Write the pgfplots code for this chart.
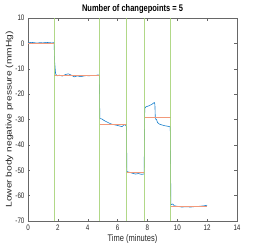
\documentclass[border=0pt]{standalone}
\usepackage{pgfplots}
\pgfplotsset{compat=1.18}
\usepackage{fontspec}
\setmainfont{Liberation Sans}[FakeStretch=0.78]
\newfontfamily\ylabfont{Liberation Sans}
\definecolor{mblue}{rgb}{0.1,0.5,0.8}
\definecolor{morange}{rgb}{0.95,0.6,0.48}
\definecolor{mgreen}{rgb}{0.64,0.82,0.45}
\definecolor{axgray}{rgb}{0.15,0.15,0.15}
\begin{document}
\begin{tikzpicture}
\begin{axis}[
  at={(0pt,0pt)}, anchor=south west,
  scale only axis, width=209pt, height=203pt,
  xmin=0, xmax=14, ymin=-70, ymax=10,
  xtick={0,2,...,14}, ytick={-70,-60,...,10},
  tick align=inside, tick pos=both,
  major tick length=2.5pt,
  axis line style={axgray!70, line width=0.4pt},
  tick style={axgray!70, line width=0.4pt},
  ticklabel style={font=\fontsize{8}{9}\selectfont, text=axgray},
  /pgf/number format/assume math mode=true,
  title={\bfseries Number of changepoints = 5},
  title style={font=\fontsize{9.6}{11}\selectfont, yshift=-5pt},
  xlabel={Time (minutes)},
  ylabel={\ylabfont Lower body negative pressure (mmHg)},
  label style={font=\fontsize{9.6}{11}\selectfont, text=axgray},
  xlabel style={yshift=3pt},
  ylabel style={yshift=-4pt, yscale=0.8, font=\fontsize{10.2}{11}\selectfont},
]
\addplot[mblue, line width=0.6pt] coordinates {
(0,0.2)(0.2,0.4)(0.4,0.3)(0.6,0.1)(0.8,0.3)(1.0,0.2)(1.2,0.4)(1.4,0.3)(1.6,0.2)(1.75,0.3)
(1.78,-7)(1.85,-12)(1.95,-12.8)(2.1,-12.5)(2.3,-12.9)(2.5,-12.3)(2.7,-12.0)(2.9,-12.5)(3.1,-13.2)(3.3,-12.8)(3.5,-13.1)(3.7,-12.9)(3.9,-12.7)(4.1,-12.8)(4.3,-12.6)(4.5,-12.7)(4.7,-12.4)(4.78,-12.6)
(4.81,-29.6)(4.95,-29.8)(5.1,-30.4)(5.3,-31.0)(5.5,-31.6)(5.7,-32.0)(5.9,-32.2)(6.1,-32.5)(6.3,-32.8)(6.45,-32.0)(6.55,-32.3)(6.6,-32.9)
(6.62,-50.5)(6.8,-50.8)(7.0,-51.2)(7.2,-51.5)(7.4,-51.3)(7.6,-51.6)(7.78,-51.5)
(7.82,-25.6)(7.9,-25.0)(8.1,-24.6)(8.3,-24.0)(8.46,-23.3)(8.5,-24.0)(8.53,-29.8)(8.6,-29.9)(8.68,-31.2)(8.8,-31.8)(9.0,-32.2)(9.2,-32.5)(9.4,-32.7)(9.53,-32.9)
(9.57,-63.6)(9.7,-63.3)(9.8,-64.0)(10.0,-64.2)(10.3,-64.5)(10.6,-64.4)(10.9,-64.5)(11.2,-64.3)(11.5,-64.2)(11.8,-64.0)(12.0,-63.8)
};
\addplot[morange, line width=0.6pt, unbounded coords=jump] coordinates {
(0,0.2)(1.77,0.2) (1.77,nan)
(1.77,-12.7)(4.79,-12.7) (4.79,nan)
(4.79,-31.8)(6.6,-31.8) (6.6,nan)
(6.6,-51.0)(7.8,-51.0) (7.8,nan)
(7.8,-29.1)(9.55,-29.1) (9.55,nan)
(9.55,-64.2)(12.0,-64.2)
};
\addplot[mgreen, line width=0.6pt, opacity=0.85, unbounded coords=jump] coordinates {
(1.77,-70)(1.77,10) (1.77,nan)
(4.79,-70)(4.79,10) (4.79,nan)
(6.6,-70)(6.6,10) (6.6,nan)
(7.8,-70)(7.8,10) (7.8,nan)
(9.55,-70)(9.55,10)
};
\end{axis}
\pgfresetboundingbox
\useasboundingbox (-28pt,-29pt) rectangle (246pt,221pt);
\end{tikzpicture}
\end{document}
